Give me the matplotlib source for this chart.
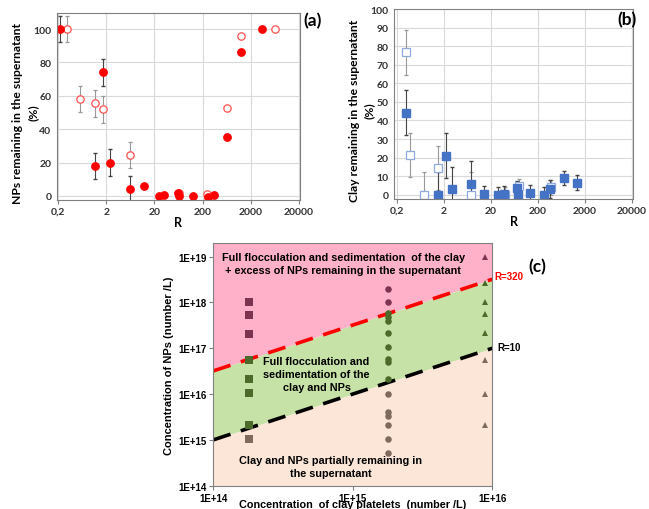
import numpy as np
import matplotlib.pyplot as plt

# ---- panel (a): NPs remaining in the supernatant ----
a_full_r = [0.22, 1.74, 1.16, 2.35, 6.2, 12.1, 24.6, 32, 63, 66, 126, 258, 340, 632, 1270, 3480]
a_full_y = [100, 74, 18, 20, 4, 6, 0, 0.5, 2, 0, 0, -0.5, 0.5, 35.5, 86.5, 100]
a_full_err = [8, 8, 8, 8, 8, 0, 0, 0, 0, 0, 0, 0, 0, 0, 0, 0]
a_open_r = [0.30, 0.58, 1.16, 1.74, 6.2, 66, 250, 632, 1270, 6460]
a_open_y = [100, 58, 55.5, 52, 24.5, 1.5, 1, 52.5, 96, 100]
a_open_err = [8, 8, 8, 8, 8, 0, 0, 1, 0.5, 0.5]

# ---- panel (b): clay remaining in the supernatant ----
b_full_r = [0.31, 1.54, 2.2, 3.0, 7.5, 14.7, 29, 38, 73, 75, 139, 270, 365, 710, 1350]
b_full_y = [44.2, 0, 21, 3, 6, 0.5, 0, 0.5, 3.5, 0, 1, 0, 3, 9, 6.5]
b_full_err = [12, 12, 12, 12, 12, 4, 4, 4, 4, 4, 4, 4, 5, 4, 4]
b_open_r = [0.31, 0.38, 0.78, 1.54, 7.5, 40, 78, 380]
b_open_y = [76.7, 21.5, 0, 14.5, 0, 0, 4.5, 4]
b_open_err = [12, 12, 12, 12, 12, 4, 4, 4]

# ---- panel (c): state diagram ----
clay_sq, clay_ci, clay_tr = 1.8e14, 1.8e15, 8.9e15
np_sq = [1e18, 5.3e17, 2e17, 5.5e16, 2.1e16, 1.04e16, 2.1e15, 1.03e15]
st_sq = ['p', 'p', 'p', 'g', 'g', 'g', 'g', 'b']
np_ci = [1.97e18, 1.04e18, 5.8e17, 4.8e17, 4e17, 2.1e17, 1.05e17, 5.8e16, 5.1e16,
         2.1e16, 1e16, 4.1e15, 3.3e15, 2.1e15, 1.05e15, 5.2e14]
st_ci = ['p', 'p', 'g', 'g', 'g', 'g', 'g', 'g', 'g', 'g', 'b', 'b', 'b', 'b', 'b', 'b']
np_tr = [1e19, 2.6e18, 1e18, 5.6e17, 2.1e17, 5.4e16, 1e16, 2.1e15]
st_tr = ['p', 'g', 'g', 'g', 'g', 'b', 'b', 'b']
R_high, R_low = 320, 10

calibri = ['Lato', 'DejaVu Sans']
arial = ['Liberation Sans', 'DejaVu Sans']
state_col = {'p': '#7d3352', 'g': '#4c6a2a', 'b': '#7e6b5e'}

fig = plt.figure(figsize=(6.49, 5.10), dpi=100)


def style_pct(ax, yticks, ylim, xlim):
    ax.set_xscale('log')
    ax.set_xlim(*xlim)
    ax.set_ylim(*ylim)
    ax.set_xticks([0.2, 2, 20, 200, 2000, 20000])
    ax.set_xticklabels(['0,2', '2', '20', '200', '2000', '20000'])
    ax.minorticks_off()
    ax.set_yticks(yticks)
    ax.grid(True, color='#d9d9d9', lw=0.8)
    ax.set_axisbelow(True)
    for s in ax.spines.values():
        s.set_color('#808080')
    ax.tick_params(axis='y', length=0, pad=4)
    ax.tick_params(axis='x', length=3, color='#808080', pad=2)
    for lab in ax.get_xticklabels() + ax.get_yticklabels():
        lab.set_fontfamily(calibri)
        lab.set_fontweight('bold')
        lab.set_fontsize(7.5)
        lab.set_color('#333333')
    ax.set_xlabel('R', family=calibri, weight='bold', fontsize=9, labelpad=0)


def pct_label(ax, text, x1, x2):
    # two-line y label, drawn as two texts in axes coords
    ax.text(x1, 0.47, text, transform=ax.transAxes, rotation=90, ha='center',
            va='center', family=calibri, weight='bold', fontsize=8.7)
    ax.text(x2, 0.47, '(%)', transform=ax.transAxes, rotation=90, ha='center',
            va='center', family=calibri, weight='bold', fontsize=8.7)


# panel (a)
ax_a = fig.add_axes([0.0878, 0.6059, 0.3744, 0.3667])
ax_a.errorbar(a_open_r, a_open_y, yerr=a_open_err, fmt='o', ms=5.3, mfc='white',
              mec='#ff5050', mew=0.9, ecolor='#999999', elinewidth=0.8, capsize=1.5)
ax_a.errorbar(a_full_r, a_full_y, yerr=a_full_err, fmt='o', ms=5.3, color='#ff0000',
              ecolor='#444444', elinewidth=0.8, capsize=1.5)
style_pct(ax_a, range(0, 101, 20), (-2.4, 109.6), (0.19, 21000))
pct_label(ax_a, 'NPs remaining in the supernatant', (18 - 57) / 243, (33 - 57) / 243)
fig.text(0.468, 0.958, '(a)', family=calibri, weight='bold', fontsize=12.5, va='center')

# panel (b)
ax_b = fig.add_axes([0.6076, 0.6078, 0.3678, 0.3725])
ax_b.errorbar(b_open_r, b_open_y, yerr=b_open_err, fmt='s', ms=5.3, mfc='white',
              mec='#8faadc', mew=0.9, ecolor='#999999', elinewidth=0.8, capsize=1.5)
ax_b.errorbar(b_full_r, b_full_y, yerr=b_full_err, fmt='s', ms=5.3, color='#4472c4',
              ecolor='#444444', elinewidth=0.8, capsize=1.5)
style_pct(ax_b, range(0, 101, 10), (-2.3, 100), (0.178, 21300))
pct_label(ax_b, 'Clay remaining in the supernatant', (354 - 394.3) / 238.7,
          (369 - 394.3) / 238.7)
fig.text(0.951, 0.96, '(b)', family=calibri, weight='bold', fontsize=12.5, va='center')

# panel (c)
ax_c = fig.add_axes([0.3287, 0.0457, 0.4299, 0.4753])
ax_c.set_xscale('log')
ax_c.set_yscale('log')
xl = (1e14, 1e16)
yl = (1e14, 1.95e19)
ax_c.set_xlim(*xl)
ax_c.set_ylim(*yl)
xs = np.array(xl)
ax_c.fill_between(xs, R_high * xs, yl[1], color='#ffb1c9', lw=0)
ax_c.fill_between(xs, R_low * xs, R_high * xs, color='#c7e2a6', lw=0)
ax_c.fill_between(xs, yl[0], R_low * xs, color='#fce6d8', lw=0)
ax_c.plot(xs, R_high * xs, color='#ff0000', lw=2.6, dashes=(5, 3))
ax_c.plot(xs, R_low * xs, color='#000000', lw=2.6, dashes=(5, 3))

for ys, sts, xv, mk, sz in [(np_sq, st_sq, clay_sq, 's', 5.8),
                            (np_ci, st_ci, clay_ci, 'o', 4.7),
                            (np_tr, st_tr, clay_tr, '^', 5)]:
    for yv, st in zip(ys, sts):
        ax_c.plot(xv, yv, mk, ms=sz, color=state_col[st], mew=0)

ax_c.minorticks_off()
ax_c.set_xticks([1e14, 1e15, 1e16])
ax_c.set_xticklabels(['1E+14', '1E+15', '1E+16'])
ax_c.set_yticks([1e14, 1e15, 1e16, 1e17, 1e18, 1e19])
ax_c.set_yticklabels(['1E+14', '1E+15', '1E+16', '1E+17', '1E+18', '1E+19'])
ax_c.tick_params(axis='y', length=3, color='#808080', pad=2)
ax_c.tick_params(axis='x', length=3, color='#808080', pad=2)
for lab in ax_c.get_xticklabels() + ax_c.get_yticklabels():
    lab.set_fontfamily(arial)
    lab.set_fontweight('bold')
    lab.set_fontsize(7)
for s in ax_c.spines.values():
    s.set_color('#808080')
ax_c.set_ylabel('Concentration of NPs (number /L)', family=arial, weight='bold',
                fontsize=8, labelpad=3)
ax_c.set_xlabel('Concentration  of clay platelets  (number /L)', family=arial,
                weight='bold', fontsize=7.8, labelpad=-2.5)

ax_c.text(0.465, 0.915, 'Full flocculation and sedimentation  of the clay\n'
          '+ excess of NPs remaining in the supernatant', transform=ax_c.transAxes,
          ha='center', va='center', family=arial, weight='bold', fontsize=7.8,
          linespacing=1.4)
ax_c.text(0.37, 0.46, 'Full flocculation and\nsedimentation of the\nclay and NPs',
          transform=ax_c.transAxes, ha='center', va='center', family=arial,
          weight='bold', fontsize=7.8, linespacing=1.4)
ax_c.text(0.42, 0.08, 'Clay and NPs partially remaining in\nthe supernatant',
          transform=ax_c.transAxes, ha='center', va='center', family=arial,
          weight='bold', fontsize=7.8, linespacing=1.4)
fig.text(494 / 649, 1 - 277 / 510, 'R=320', color='#ff0000', family=arial,
         weight='bold', fontsize=7, va='center')
fig.text(497 / 649, 1 - 348 / 510, 'R=10', color='#000000', family=arial,
         weight='bold', fontsize=7, va='center')
fig.text(528 / 649, 1 - 267 / 510, '(c)', family=calibri, weight='bold',
         fontsize=12.5, va='center')

fig.savefig('out.png', dpi=100)
